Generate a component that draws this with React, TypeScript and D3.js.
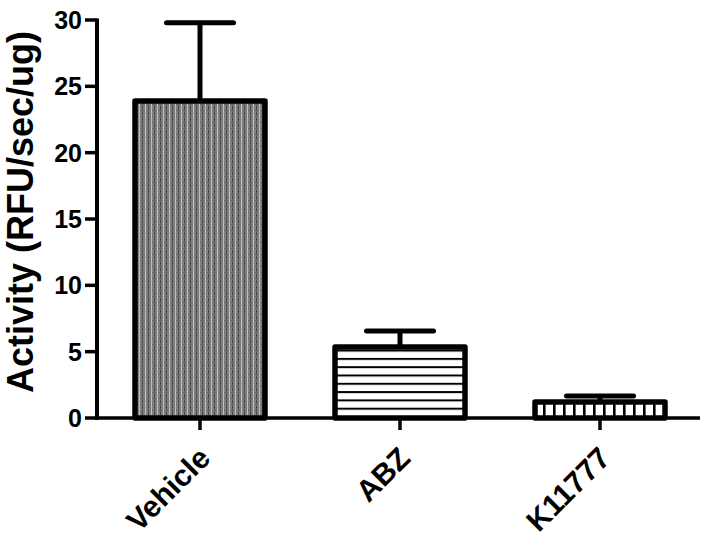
import React from "react";
import * as d3 from "d3";

const categories = ["Vehicle", "ABZ", "K11777"];
const means = [23.9, 5.35, 1.2];
const errors = [5.9, 1.2, 0.45];
const yTicks = [0, 5, 10, 15, 20, 25, 30];
const fills = ["url(#grain)", "url(#hlines)", "url(#vlines)"];

const W = 708;
const H = 540;
const FONT = "'Liberation Sans', Arial, Helvetica, sans-serif";

const App: React.FC = () => {
  const y = d3.scaleLinear().domain([0, 30]).range([418, 20]);
  const x = d3.scalePoint<string>().domain(categories).range([100, 700]).padding(0.5);
  const barW = 130;
  const capHalf = 33.5;

  return (
    <svg
      width={W}
      height={H}
      style={{ position: "absolute", left: 0, top: 0, background: "#fff" }}
      fontFamily={FONT}
    >
      <defs>
        <pattern id="grain" width="6" height="6" patternUnits="userSpaceOnUse">
          <rect width="6" height="6" fill="#808080" />
          <rect x="1" y="0" width="1" height="6" fill="#b8b8b8" />
          <rect x="4" y="0" width="1" height="6" fill="#555" />
          <rect x="0" y="2" width="6" height="1" fill="#6a6a6a" />
          <rect x="1" y="2" width="1" height="1" fill="#e0e0e0" />
          <rect x="4" y="5" width="1" height="1" fill="#2a2a2a" />
        </pattern>
        <pattern id="hlines" width="10" height="8.3" patternUnits="userSpaceOnUse" y="1">
          <rect width="10" height="8.3" fill="#fff" />
          <rect y="0" width="10" height="2" fill="#000" />
        </pattern>
        <pattern id="vlines" width="10" height="10" patternUnits="userSpaceOnUse" x="3">
          <rect width="10" height="10" fill="#fff" />
          <rect x="0" width="2.6" height="10" fill="#000" />
        </pattern>
      </defs>

      {/* error bars */}
      {categories.map((c, i) => {
        const cx = x(c) ?? 0;
        const top = y(means[i] + errors[i]);
        return (
          <g key={"err" + c} stroke="#000" strokeWidth={5} strokeLinecap="round">
            <line x1={cx} x2={cx} y1={y(means[i])} y2={top} strokeLinecap="butt" />
            <line x1={cx - capHalf} x2={cx + capHalf} y1={top} y2={top} />
          </g>
        );
      })}

      {/* bars */}
      {categories.map((c, i) => {
        const cx = x(c) ?? 0;
        return (
          <rect
            key={"bar" + c}
            x={cx - barW / 2}
            y={y(means[i])}
            width={barW}
            height={y(0) - y(means[i])}
            fill={fills[i]}
            stroke="#000"
            strokeWidth={5.5}
            strokeLinejoin="round"
          />
        );
      })}

      {/* y axis */}
      <line x1={97} x2={97} y1={y(30) - 1.5} y2={y(0) + 1.75} stroke="#000" strokeWidth={4} />
      {yTicks.map((t) => (
        <g key={"yt" + t}>
          <line x1={85} x2={97} y1={y(t)} y2={y(t)} stroke="#000" strokeWidth={3.5} />
          <text
            x={82}
            y={y(t)}
            dy="0.36em"
            textAnchor="end"
            fontSize={25}
            fontWeight="bold"
            fill="#000"
          >
            {t}
          </text>
        </g>
      ))}
      <text
        transform={`translate(33, 212) rotate(-90)`}
        textAnchor="middle"
        fontSize={36}
        fontWeight="bold"
        fill="#000"
      >
        Activity (RFU/sec/ug)
      </text>

      {/* x axis */}
      <line x1={95} x2={700} y1={y(0)} y2={y(0)} stroke="#000" strokeWidth={3.5} />
      {categories.map((c) => {
        const cx = x(c) ?? 0;
        return (
          <g key={"xt" + c}>
            <line x1={cx} x2={cx} y1={y(0)} y2={y(0) + 12} stroke="#000" strokeWidth={3.5} />
            <text
              transform={`translate(${cx + 12}, 460) rotate(-45)`}
              textAnchor="end"
              fontSize={30}
              fontWeight="bold"
              fill="#000"
            >
              {c}
            </text>
          </g>
        );
      })}
    </svg>
  );
};

export default App;
